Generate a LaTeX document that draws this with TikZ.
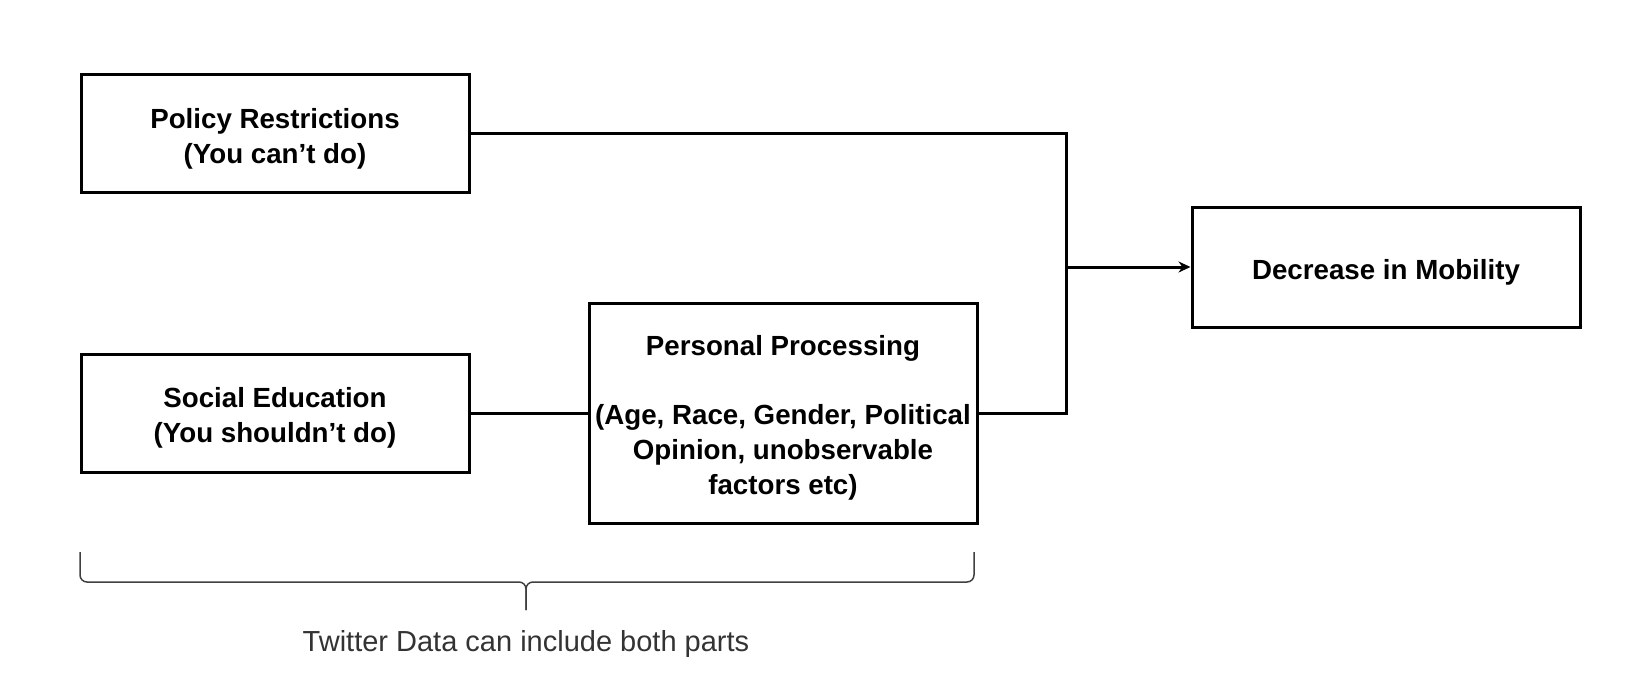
\documentclass[tikz,border=0pt]{standalone}
\usepackage{fontspec}
\setmainfont{Liberation Sans}
\usepackage{xcolor}
\usetikzlibrary{arrows.meta,positioning}
\newcommand{\tstrut}{\rule{0pt}{30.5pt}}

\begin{document}
\begin{tikzpicture}[
    x=1pt, y=-1pt,
    node distance=120pt,
    box/.style={rectangle, draw, line width=3pt, minimum width=388pt, minimum height=118pt, align=center, font=\fontsize{27.7}{35}\selectfont\bfseries},
    line/.style={line width=3pt},
    arr/.style={-{Stealth[length=12pt,width=11pt]}, line width=3pt},
    brace/.style={line width=1.5pt, draw=black!75, rounded corners=7pt}
  ]
    \useasboundingbox (0,0) rectangle (1626,698);
    \node[box] (policy) at (275,134) {\tstrut Policy Restrictions\\(You can’t do)};
    \node[box, below=158pt of policy] (social) {\tstrut Social Education\\(You shouldn’t do)};
    \node[box, minimum height=220pt, right=117pt of social] (personal) {\tstrut Personal Processing\\[34pt](Age, Race, Gender, Political\\Opinion, unobservable\\factors etc)};
    \node[box, minimum height=120pt] (decrease) at (1386,267) {\tstrut Decrease in Mobility};
    \coordinate (jx) at (1066,0);
    \draw[line] (policy.east) -- (policy.east -| jx) -- (personal.east -| jx) -- (personal.east);
    \draw[line] (social) -- (personal);
    \draw[arr] (jx |- decrease.west) -- (decrease.west);
    % brace under the two lower boxes
    \coordinate (tip) at (526,610);
    \draw[brace] (80,552) |- (526,582) -- (tip);
    \draw[brace] (974,552) |- (526,582) -- (tip);
    \node[font=\fontsize{29}{34}\selectfont, text=black!80] (caption) at (526,644) {Twitter Data can include both parts};
\end{tikzpicture}
\end{document}
